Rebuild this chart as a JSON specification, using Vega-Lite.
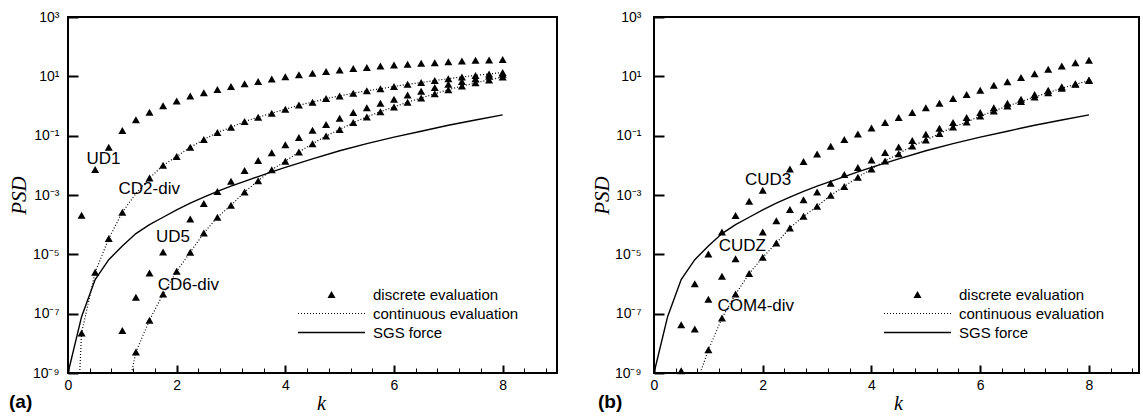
{
  "$schema": "https://vega.github.io/schema/vega-lite/v6.json",
  "background": "white",
  "padding": {"left": 7, "top": 9, "right": 0, "bottom": 0},
  "config": {
    "view": {"stroke": "black", "strokeWidth": 2},
    "axis": {"labelFont": "Liberation Sans", "labelFontSize": 14, "labelColor": "black", "domain": false, "ticks": false, "titleColor": "black", "gridColor": "black", "gridOpacity": 1}
  },
  "datasets": {
    "pts": [
      {"p":"a","s":"UD1","t":"discrete evaluation","k":0.25,"psd":2.09e-4},{"p":"a","s":"UD1","t":"discrete evaluation","k":0.5,"psd":7.24e-3},{"p":"a","s":"UD1","t":"discrete evaluation","k":0.75,"psd":4.07e-2},{"p":"a","s":"UD1","t":"discrete evaluation","k":1,"psd":0.148},{"p":"a","s":"UD1","t":"discrete evaluation","k":1.25,"psd":0.347},{"p":"a","s":"UD1","t":"discrete evaluation","k":1.5,"psd":0.617},{"p":"a","s":"UD1","t":"discrete evaluation","k":1.75,"psd":1.023},{"p":"a","s":"UD1","t":"discrete evaluation","k":2,"psd":1.479},{"p":"a","s":"UD1","t":"discrete evaluation","k":2.25,"psd":2.188},{"p":"a","s":"UD1","t":"discrete evaluation","k":2.5,"psd":2.818},{"p":"a","s":"UD1","t":"discrete evaluation","k":2.75,"psd":3.631},{"p":"a","s":"UD1","t":"discrete evaluation","k":3,"psd":4.571},{"p":"a","s":"UD1","t":"discrete evaluation","k":3.25,"psd":5.623},{"p":"a","s":"UD1","t":"discrete evaluation","k":3.5,"psd":6.761},{"p":"a","s":"UD1","t":"discrete evaluation","k":3.75,"psd":8.128},{"p":"a","s":"UD1","t":"discrete evaluation","k":4,"psd":9.772},{"p":"a","s":"UD1","t":"discrete evaluation","k":4.25,"psd":11.22},{"p":"a","s":"UD1","t":"discrete evaluation","k":4.5,"psd":12.59},{"p":"a","s":"UD1","t":"discrete evaluation","k":4.75,"psd":14.45},{"p":"a","s":"UD1","t":"discrete evaluation","k":5,"psd":16.22},{"p":"a","s":"UD1","t":"discrete evaluation","k":5.25,"psd":18.2},{"p":"a","s":"UD1","t":"discrete evaluation","k":5.5,"psd":19.95},{"p":"a","s":"UD1","t":"discrete evaluation","k":5.75,"psd":22.39},{"p":"a","s":"UD1","t":"discrete evaluation","k":6,"psd":23.99},{"p":"a","s":"UD1","t":"discrete evaluation","k":6.25,"psd":25.7},{"p":"a","s":"UD1","t":"discrete evaluation","k":6.5,"psd":27.54},{"p":"a","s":"UD1","t":"discrete evaluation","k":6.75,"psd":28.84},{"p":"a","s":"UD1","t":"discrete evaluation","k":7,"psd":30.9},{"p":"a","s":"UD1","t":"discrete evaluation","k":7.25,"psd":33.11},{"p":"a","s":"UD1","t":"discrete evaluation","k":7.5,"psd":34.67},{"p":"a","s":"UD1","t":"discrete evaluation","k":7.75,"psd":35.48},{"p":"a","s":"UD1","t":"discrete evaluation","k":8,"psd":37.15},
      {"p":"a","s":"CD2-div","t":"discrete evaluation","k":0.25,"psd":2.24e-8},{"p":"a","s":"CD2-div","t":"discrete evaluation","k":0.5,"psd":2.51e-6},{"p":"a","s":"CD2-div","t":"discrete evaluation","k":0.75,"psd":3.39e-5},{"p":"a","s":"CD2-div","t":"discrete evaluation","k":1,"psd":2.63e-4},{"p":"a","s":"CD2-div","t":"discrete evaluation","k":1.5,"psd":3.72e-3},{"p":"a","s":"CD2-div","t":"discrete evaluation","k":1.75,"psd":1.0e-2},{"p":"a","s":"CD2-div","t":"discrete evaluation","k":2,"psd":1.995e-2},{"p":"a","s":"CD2-div","t":"discrete evaluation","k":2.25,"psd":4.07e-2},{"p":"a","s":"CD2-div","t":"discrete evaluation","k":2.5,"psd":7.41e-2},{"p":"a","s":"CD2-div","t":"discrete evaluation","k":2.75,"psd":0.1288},{"p":"a","s":"CD2-div","t":"discrete evaluation","k":3,"psd":0.1905},{"p":"a","s":"CD2-div","t":"discrete evaluation","k":3.25,"psd":0.302},{"p":"a","s":"CD2-div","t":"discrete evaluation","k":3.5,"psd":0.417},{"p":"a","s":"CD2-div","t":"discrete evaluation","k":3.75,"psd":0.575},{"p":"a","s":"CD2-div","t":"discrete evaluation","k":4,"psd":0.776},{"p":"a","s":"CD2-div","t":"discrete evaluation","k":4.25,"psd":1.072},{"p":"a","s":"CD2-div","t":"discrete evaluation","k":4.5,"psd":1.349},{"p":"a","s":"CD2-div","t":"discrete evaluation","k":4.75,"psd":1.778},{"p":"a","s":"CD2-div","t":"discrete evaluation","k":5,"psd":2.188},{"p":"a","s":"CD2-div","t":"discrete evaluation","k":5.25,"psd":2.692},{"p":"a","s":"CD2-div","t":"discrete evaluation","k":5.5,"psd":3.236},{"p":"a","s":"CD2-div","t":"discrete evaluation","k":5.75,"psd":3.802},{"p":"a","s":"CD2-div","t":"discrete evaluation","k":6,"psd":4.571},{"p":"a","s":"CD2-div","t":"discrete evaluation","k":6.25,"psd":5.37},{"p":"a","s":"CD2-div","t":"discrete evaluation","k":6.5,"psd":6.166},{"p":"a","s":"CD2-div","t":"discrete evaluation","k":6.75,"psd":7.244},{"p":"a","s":"CD2-div","t":"discrete evaluation","k":7,"psd":8.318},{"p":"a","s":"CD2-div","t":"discrete evaluation","k":7.25,"psd":9.55},{"p":"a","s":"CD2-div","t":"discrete evaluation","k":7.5,"psd":10.72},{"p":"a","s":"CD2-div","t":"discrete evaluation","k":7.75,"psd":12.02},{"p":"a","s":"CD2-div","t":"discrete evaluation","k":8,"psd":13.49},
      {"p":"a","s":"UD5","t":"discrete evaluation","k":1,"psd":2.69e-8},{"p":"a","s":"UD5","t":"discrete evaluation","k":1.25,"psd":3.55e-7},{"p":"a","s":"UD5","t":"discrete evaluation","k":1.5,"psd":2.34e-6},{"p":"a","s":"UD5","t":"discrete evaluation","k":1.75,"psd":1.2e-5},{"p":"a","s":"UD5","t":"discrete evaluation","k":2.25,"psd":1.549e-4},{"p":"a","s":"UD5","t":"discrete evaluation","k":2.5,"psd":5.13e-4},{"p":"a","s":"UD5","t":"discrete evaluation","k":2.75,"psd":1.318e-3},{"p":"a","s":"UD5","t":"discrete evaluation","k":3,"psd":2.884e-3},{"p":"a","s":"UD5","t":"discrete evaluation","k":3.25,"psd":6.76e-3},{"p":"a","s":"UD5","t":"discrete evaluation","k":3.5,"psd":1.445e-2},{"p":"a","s":"UD5","t":"discrete evaluation","k":3.75,"psd":2.63e-2},{"p":"a","s":"UD5","t":"discrete evaluation","k":4,"psd":4.9e-2},{"p":"a","s":"UD5","t":"discrete evaluation","k":4.25,"psd":8.71e-2},{"p":"a","s":"UD5","t":"discrete evaluation","k":4.5,"psd":0.1514},{"p":"a","s":"UD5","t":"discrete evaluation","k":4.75,"psd":0.2399},{"p":"a","s":"UD5","t":"discrete evaluation","k":5,"psd":0.389},{"p":"a","s":"UD5","t":"discrete evaluation","k":5.25,"psd":0.6026},{"p":"a","s":"UD5","t":"discrete evaluation","k":5.5,"psd":0.871},{"p":"a","s":"UD5","t":"discrete evaluation","k":5.75,"psd":1.23},{"p":"a","s":"UD5","t":"discrete evaluation","k":6,"psd":1.698},{"p":"a","s":"UD5","t":"discrete evaluation","k":6.25,"psd":2.344},{"p":"a","s":"UD5","t":"discrete evaluation","k":6.5,"psd":3.162},{"p":"a","s":"UD5","t":"discrete evaluation","k":6.75,"psd":4.169},{"p":"a","s":"UD5","t":"discrete evaluation","k":7,"psd":5.37},{"p":"a","s":"UD5","t":"discrete evaluation","k":7.25,"psd":6.761},{"p":"a","s":"UD5","t":"discrete evaluation","k":7.5,"psd":8.318},{"p":"a","s":"UD5","t":"discrete evaluation","k":7.75,"psd":10},{"p":"a","s":"UD5","t":"discrete evaluation","k":8,"psd":11.75},
      {"p":"a","s":"CD6-div","t":"discrete evaluation","k":1.25,"psd":5.13e-9},{"p":"a","s":"CD6-div","t":"discrete evaluation","k":1.5,"psd":6.03e-8},{"p":"a","s":"CD6-div","t":"discrete evaluation","k":1.75,"psd":4.57e-7},{"p":"a","s":"CD6-div","t":"discrete evaluation","k":2,"psd":2.69e-6},{"p":"a","s":"CD6-div","t":"discrete evaluation","k":2.25,"psd":1.175e-5},{"p":"a","s":"CD6-div","t":"discrete evaluation","k":2.5,"psd":5.25e-5},{"p":"a","s":"CD6-div","t":"discrete evaluation","k":2.75,"psd":1.778e-4},{"p":"a","s":"CD6-div","t":"discrete evaluation","k":3,"psd":4.47e-4},{"p":"a","s":"CD6-div","t":"discrete evaluation","k":3.25,"psd":1.259e-3},{"p":"a","s":"CD6-div","t":"discrete evaluation","k":3.5,"psd":3.02e-3},{"p":"a","s":"CD6-div","t":"discrete evaluation","k":3.75,"psd":7.08e-3},{"p":"a","s":"CD6-div","t":"discrete evaluation","k":4,"psd":1.38e-2},{"p":"a","s":"CD6-div","t":"discrete evaluation","k":4.25,"psd":2.818e-2},{"p":"a","s":"CD6-div","t":"discrete evaluation","k":4.5,"psd":5.37e-2},{"p":"a","s":"CD6-div","t":"discrete evaluation","k":4.75,"psd":9.77e-2},{"p":"a","s":"CD6-div","t":"discrete evaluation","k":5,"psd":0.1622},{"p":"a","s":"CD6-div","t":"discrete evaluation","k":5.25,"psd":0.2754},{"p":"a","s":"CD6-div","t":"discrete evaluation","k":5.5,"psd":0.4266},{"p":"a","s":"CD6-div","t":"discrete evaluation","k":5.75,"psd":0.6457},{"p":"a","s":"CD6-div","t":"discrete evaluation","k":6,"psd":0.9333},{"p":"a","s":"CD6-div","t":"discrete evaluation","k":6.25,"psd":1.349},{"p":"a","s":"CD6-div","t":"discrete evaluation","k":6.5,"psd":1.862},{"p":"a","s":"CD6-div","t":"discrete evaluation","k":6.75,"psd":2.57},{"p":"a","s":"CD6-div","t":"discrete evaluation","k":7,"psd":3.548},{"p":"a","s":"CD6-div","t":"discrete evaluation","k":7.25,"psd":4.677},{"p":"a","s":"CD6-div","t":"discrete evaluation","k":7.5,"psd":6.026},{"p":"a","s":"CD6-div","t":"discrete evaluation","k":7.75,"psd":7.586},{"p":"a","s":"CD6-div","t":"discrete evaluation","k":8,"psd":9.55},
      {"p":"b","s":"CUD3","t":"discrete evaluation","k":0.5,"psd":4.27e-8},{"p":"b","s":"CUD3","t":"discrete evaluation","k":0.75,"psd":1.023e-6},{"p":"b","s":"CUD3","t":"discrete evaluation","k":1,"psd":1.023e-5},{"p":"b","s":"CUD3","t":"discrete evaluation","k":1.25,"psd":5.62e-5},{"p":"b","s":"CUD3","t":"discrete evaluation","k":1.5,"psd":2.04e-4},{"p":"b","s":"CUD3","t":"discrete evaluation","k":1.75,"psd":6.17e-4},{"p":"b","s":"CUD3","t":"discrete evaluation","k":2,"psd":1.445e-3},{"p":"b","s":"CUD3","t":"discrete evaluation","k":2.5,"psd":7.59e-3},{"p":"b","s":"CUD3","t":"discrete evaluation","k":2.75,"psd":1.349e-2},{"p":"b","s":"CUD3","t":"discrete evaluation","k":3,"psd":2.399e-2},{"p":"b","s":"CUD3","t":"discrete evaluation","k":3.25,"psd":4.37e-2},{"p":"b","s":"CUD3","t":"discrete evaluation","k":3.5,"psd":7.41e-2},{"p":"b","s":"CUD3","t":"discrete evaluation","k":3.75,"psd":0.1148},{"p":"b","s":"CUD3","t":"discrete evaluation","k":4,"psd":0.182},{"p":"b","s":"CUD3","t":"discrete evaluation","k":4.25,"psd":0.2754},{"p":"b","s":"CUD3","t":"discrete evaluation","k":4.5,"psd":0.4074},{"p":"b","s":"CUD3","t":"discrete evaluation","k":4.75,"psd":0.6026},{"p":"b","s":"CUD3","t":"discrete evaluation","k":5,"psd":0.871},{"p":"b","s":"CUD3","t":"discrete evaluation","k":5.25,"psd":1.23},{"p":"b","s":"CUD3","t":"discrete evaluation","k":5.5,"psd":1.778},{"p":"b","s":"CUD3","t":"discrete evaluation","k":5.75,"psd":2.455},{"p":"b","s":"CUD3","t":"discrete evaluation","k":6,"psd":3.388},{"p":"b","s":"CUD3","t":"discrete evaluation","k":6.25,"psd":5.012},{"p":"b","s":"CUD3","t":"discrete evaluation","k":6.5,"psd":6.607},{"p":"b","s":"CUD3","t":"discrete evaluation","k":6.75,"psd":9.12},{"p":"b","s":"CUD3","t":"discrete evaluation","k":7,"psd":12.3},{"p":"b","s":"CUD3","t":"discrete evaluation","k":7.25,"psd":17.38},{"p":"b","s":"CUD3","t":"discrete evaluation","k":7.5,"psd":22.39},{"p":"b","s":"CUD3","t":"discrete evaluation","k":7.75,"psd":28.84},{"p":"b","s":"CUD3","t":"discrete evaluation","k":8,"psd":34.67},
      {"p":"b","s":"CUDZ","t":"discrete evaluation","k":0.5,"psd":1.2e-9},{"p":"b","s":"CUDZ","t":"discrete evaluation","k":0.75,"psd":3.02e-8},{"p":"b","s":"CUDZ","t":"discrete evaluation","k":1,"psd":3.09e-7},{"p":"b","s":"CUDZ","t":"discrete evaluation","k":1.25,"psd":1.82e-6},{"p":"b","s":"CUDZ","t":"discrete evaluation","k":1.5,"psd":7.08e-6},{"p":"b","s":"CUDZ","t":"discrete evaluation","k":2,"psd":5.62e-5},{"p":"b","s":"CUDZ","t":"discrete evaluation","k":2.25,"psd":1.349e-4},{"p":"b","s":"CUDZ","t":"discrete evaluation","k":2.5,"psd":3.24e-4},{"p":"b","s":"CUDZ","t":"discrete evaluation","k":2.75,"psd":6.92e-4},{"p":"b","s":"CUDZ","t":"discrete evaluation","k":3,"psd":1.259e-3},{"p":"b","s":"CUDZ","t":"discrete evaluation","k":3.25,"psd":2.512e-3},{"p":"b","s":"CUDZ","t":"discrete evaluation","k":3.5,"psd":4.9e-3},{"p":"b","s":"CUDZ","t":"discrete evaluation","k":3.75,"psd":8.51e-3},{"p":"b","s":"CUDZ","t":"discrete evaluation","k":4,"psd":1.514e-2},{"p":"b","s":"CUDZ","t":"discrete evaluation","k":4.25,"psd":2.692e-2},{"p":"b","s":"CUDZ","t":"discrete evaluation","k":4.5,"psd":4.17e-2},{"p":"b","s":"CUDZ","t":"discrete evaluation","k":4.75,"psd":6.92e-2},{"p":"b","s":"CUDZ","t":"discrete evaluation","k":5,"psd":0.1122},{"p":"b","s":"CUDZ","t":"discrete evaluation","k":5.25,"psd":0.1778},{"p":"b","s":"CUDZ","t":"discrete evaluation","k":5.5,"psd":0.2754},{"p":"b","s":"CUDZ","t":"discrete evaluation","k":5.75,"psd":0.4074},{"p":"b","s":"CUDZ","t":"discrete evaluation","k":6,"psd":0.6026},{"p":"b","s":"CUDZ","t":"discrete evaluation","k":6.25,"psd":0.871},{"p":"b","s":"CUDZ","t":"discrete evaluation","k":6.5,"psd":1.23},{"p":"b","s":"CUDZ","t":"discrete evaluation","k":6.75,"psd":1.698},{"p":"b","s":"CUDZ","t":"discrete evaluation","k":7,"psd":2.455},{"p":"b","s":"CUDZ","t":"discrete evaluation","k":7.25,"psd":3.388},{"p":"b","s":"CUDZ","t":"discrete evaluation","k":7.5,"psd":4.467},{"p":"b","s":"CUDZ","t":"discrete evaluation","k":7.75,"psd":5.623},{"p":"b","s":"CUDZ","t":"discrete evaluation","k":8,"psd":7.586},
      {"p":"b","s":"COM4-div","t":"discrete evaluation","k":1,"psd":6.03e-9},{"p":"b","s":"COM4-div","t":"discrete evaluation","k":1.25,"psd":7.08e-8},{"p":"b","s":"COM4-div","t":"discrete evaluation","k":1.5,"psd":4.57e-7},{"p":"b","s":"COM4-div","t":"discrete evaluation","k":1.75,"psd":2.24e-6},{"p":"b","s":"COM4-div","t":"discrete evaluation","k":2,"psd":7.94e-6},{"p":"b","s":"COM4-div","t":"discrete evaluation","k":2.25,"psd":2.4e-5},{"p":"b","s":"COM4-div","t":"discrete evaluation","k":2.5,"psd":7.76e-5},{"p":"b","s":"COM4-div","t":"discrete evaluation","k":2.75,"psd":1.905e-4},{"p":"b","s":"COM4-div","t":"discrete evaluation","k":3,"psd":4.17e-4},{"p":"b","s":"COM4-div","t":"discrete evaluation","k":3.25,"psd":9.77e-4},{"p":"b","s":"COM4-div","t":"discrete evaluation","k":3.5,"psd":1.95e-3},{"p":"b","s":"COM4-div","t":"discrete evaluation","k":3.75,"psd":3.98e-3},{"p":"b","s":"COM4-div","t":"discrete evaluation","k":4,"psd":7.59e-3},{"p":"b","s":"COM4-div","t":"discrete evaluation","k":4.25,"psd":1.413e-2},{"p":"b","s":"COM4-div","t":"discrete evaluation","k":4.5,"psd":2.455e-2},{"p":"b","s":"COM4-div","t":"discrete evaluation","k":4.75,"psd":4.47e-2},{"p":"b","s":"COM4-div","t":"discrete evaluation","k":5,"psd":7.08e-2},{"p":"b","s":"COM4-div","t":"discrete evaluation","k":5.25,"psd":0.1175},{"p":"b","s":"COM4-div","t":"discrete evaluation","k":5.5,"psd":0.195},{"p":"b","s":"COM4-div","t":"discrete evaluation","k":5.75,"psd":0.2884},{"p":"b","s":"COM4-div","t":"discrete evaluation","k":6,"psd":0.4571},{"p":"b","s":"COM4-div","t":"discrete evaluation","k":6.25,"psd":0.6761},{"p":"b","s":"COM4-div","t":"discrete evaluation","k":6.5,"psd":1},{"p":"b","s":"COM4-div","t":"discrete evaluation","k":6.75,"psd":1.413},{"p":"b","s":"COM4-div","t":"discrete evaluation","k":7,"psd":1.995},{"p":"b","s":"COM4-div","t":"discrete evaluation","k":7.25,"psd":2.818},{"p":"b","s":"COM4-div","t":"discrete evaluation","k":7.5,"psd":3.981},{"p":"b","s":"COM4-div","t":"discrete evaluation","k":7.75,"psd":5.37},{"p":"b","s":"COM4-div","t":"discrete evaluation","k":8,"psd":7.244}
    ],
    "lines": [
      {"p":"a","s":"CD2-div","k":0.215,"psd":1e-9},{"p":"a","s":"CD2-div","k":0.25,"psd":2.24e-8},{"p":"a","s":"CD2-div","k":0.5,"psd":2.51e-6},{"p":"a","s":"CD2-div","k":0.75,"psd":3.39e-5},{"p":"a","s":"CD2-div","k":1,"psd":2.63e-4},{"p":"a","s":"CD2-div","k":1.25,"psd":1.122e-3},{"p":"a","s":"CD2-div","k":1.5,"psd":3.72e-3},{"p":"a","s":"CD2-div","k":1.75,"psd":1.0e-2},{"p":"a","s":"CD2-div","k":2,"psd":1.995e-2},{"p":"a","s":"CD2-div","k":2.25,"psd":4.07e-2},{"p":"a","s":"CD2-div","k":2.5,"psd":7.41e-2},{"p":"a","s":"CD2-div","k":2.75,"psd":0.1288},{"p":"a","s":"CD2-div","k":3,"psd":0.1905},{"p":"a","s":"CD2-div","k":3.25,"psd":0.302},{"p":"a","s":"CD2-div","k":3.5,"psd":0.417},{"p":"a","s":"CD2-div","k":3.75,"psd":0.575},{"p":"a","s":"CD2-div","k":4,"psd":0.776},{"p":"a","s":"CD2-div","k":4.25,"psd":1.072},{"p":"a","s":"CD2-div","k":4.5,"psd":1.349},{"p":"a","s":"CD2-div","k":4.75,"psd":1.778},{"p":"a","s":"CD2-div","k":5,"psd":2.188},{"p":"a","s":"CD2-div","k":5.25,"psd":2.692},{"p":"a","s":"CD2-div","k":5.5,"psd":3.236},{"p":"a","s":"CD2-div","k":5.75,"psd":3.802},{"p":"a","s":"CD2-div","k":6,"psd":4.571},{"p":"a","s":"CD2-div","k":6.25,"psd":5.37},{"p":"a","s":"CD2-div","k":6.5,"psd":6.166},{"p":"a","s":"CD2-div","k":6.75,"psd":7.244},{"p":"a","s":"CD2-div","k":7,"psd":8.318},{"p":"a","s":"CD2-div","k":7.25,"psd":9.55},{"p":"a","s":"CD2-div","k":7.5,"psd":10.72},{"p":"a","s":"CD2-div","k":7.75,"psd":12.02},{"p":"a","s":"CD2-div","k":8,"psd":13.49},
      {"p":"a","s":"CD6-div","k":1.17,"psd":1e-9},{"p":"a","s":"CD6-div","k":1.25,"psd":5.13e-9},{"p":"a","s":"CD6-div","k":1.5,"psd":6.03e-8},{"p":"a","s":"CD6-div","k":1.75,"psd":4.57e-7},{"p":"a","s":"CD6-div","k":2,"psd":2.69e-6},{"p":"a","s":"CD6-div","k":2.25,"psd":1.175e-5},{"p":"a","s":"CD6-div","k":2.5,"psd":5.25e-5},{"p":"a","s":"CD6-div","k":2.75,"psd":1.778e-4},{"p":"a","s":"CD6-div","k":3,"psd":4.47e-4},{"p":"a","s":"CD6-div","k":3.25,"psd":1.259e-3},{"p":"a","s":"CD6-div","k":3.5,"psd":3.02e-3},{"p":"a","s":"CD6-div","k":3.75,"psd":7.08e-3},{"p":"a","s":"CD6-div","k":4,"psd":1.38e-2},{"p":"a","s":"CD6-div","k":4.25,"psd":2.818e-2},{"p":"a","s":"CD6-div","k":4.5,"psd":5.37e-2},{"p":"a","s":"CD6-div","k":4.75,"psd":9.77e-2},{"p":"a","s":"CD6-div","k":5,"psd":0.1622},{"p":"a","s":"CD6-div","k":5.25,"psd":0.2754},{"p":"a","s":"CD6-div","k":5.5,"psd":0.4266},{"p":"a","s":"CD6-div","k":5.75,"psd":0.6457},{"p":"a","s":"CD6-div","k":6,"psd":0.9333},{"p":"a","s":"CD6-div","k":6.25,"psd":1.349},{"p":"a","s":"CD6-div","k":6.5,"psd":1.862},{"p":"a","s":"CD6-div","k":6.75,"psd":2.57},{"p":"a","s":"CD6-div","k":7,"psd":3.548},{"p":"a","s":"CD6-div","k":7.25,"psd":4.677},{"p":"a","s":"CD6-div","k":7.5,"psd":6.026},{"p":"a","s":"CD6-div","k":7.75,"psd":7.586},{"p":"a","s":"CD6-div","k":8,"psd":9.55},
      {"p":"b","s":"COM4-div","k":0.85,"psd":1e-9},{"p":"b","s":"COM4-div","k":1,"psd":6.03e-9},{"p":"b","s":"COM4-div","k":1.25,"psd":7.08e-8},{"p":"b","s":"COM4-div","k":1.5,"psd":4.57e-7},{"p":"b","s":"COM4-div","k":1.75,"psd":2.24e-6},{"p":"b","s":"COM4-div","k":2,"psd":7.94e-6},{"p":"b","s":"COM4-div","k":2.25,"psd":2.4e-5},{"p":"b","s":"COM4-div","k":2.5,"psd":7.76e-5},{"p":"b","s":"COM4-div","k":2.75,"psd":1.905e-4},{"p":"b","s":"COM4-div","k":3,"psd":4.17e-4},{"p":"b","s":"COM4-div","k":3.25,"psd":9.77e-4},{"p":"b","s":"COM4-div","k":3.5,"psd":1.95e-3},{"p":"b","s":"COM4-div","k":3.75,"psd":3.98e-3},{"p":"b","s":"COM4-div","k":4,"psd":7.59e-3},{"p":"b","s":"COM4-div","k":4.25,"psd":1.413e-2},{"p":"b","s":"COM4-div","k":4.5,"psd":2.455e-2},{"p":"b","s":"COM4-div","k":4.75,"psd":4.47e-2},{"p":"b","s":"COM4-div","k":5,"psd":7.08e-2},{"p":"b","s":"COM4-div","k":5.25,"psd":0.1175},{"p":"b","s":"COM4-div","k":5.5,"psd":0.195},{"p":"b","s":"COM4-div","k":5.75,"psd":0.2884},{"p":"b","s":"COM4-div","k":6,"psd":0.4571},{"p":"b","s":"COM4-div","k":6.25,"psd":0.6761},{"p":"b","s":"COM4-div","k":6.5,"psd":1},{"p":"b","s":"COM4-div","k":6.75,"psd":1.413},{"p":"b","s":"COM4-div","k":7,"psd":1.995},{"p":"b","s":"COM4-div","k":7.25,"psd":2.818},{"p":"b","s":"COM4-div","k":7.5,"psd":3.981},{"p":"b","s":"COM4-div","k":7.75,"psd":5.37},{"p":"b","s":"COM4-div","k":8,"psd":7.244},
      {"p":"a","s":"SGS","k":0,"psd":1e-9},{"p":"a","s":"SGS","k":0.25,"psd":7.94e-8},{"p":"a","s":"SGS","k":0.5,"psd":1.413e-6},{"p":"a","s":"SGS","k":0.75,"psd":6.61e-6},{"p":"a","s":"SGS","k":1,"psd":1.905e-5},{"p":"a","s":"SGS","k":1.25,"psd":5.01e-5},{"p":"a","s":"SGS","k":1.5,"psd":1e-4},{"p":"a","s":"SGS","k":1.75,"psd":1.778e-4},{"p":"a","s":"SGS","k":2,"psd":3.162e-4},{"p":"a","s":"SGS","k":2.25,"psd":5.37e-4},{"p":"a","s":"SGS","k":2.5,"psd":8.51e-4},{"p":"a","s":"SGS","k":2.75,"psd":1.318e-3},{"p":"a","s":"SGS","k":3,"psd":1.995e-3},{"p":"a","s":"SGS","k":3.25,"psd":2.884e-3},{"p":"a","s":"SGS","k":3.5,"psd":4.17e-3},{"p":"a","s":"SGS","k":3.75,"psd":6.03e-3},{"p":"a","s":"SGS","k":4,"psd":8.51e-3},{"p":"a","s":"SGS","k":4.5,"psd":1.66e-2},{"p":"a","s":"SGS","k":5,"psd":3.09e-2},{"p":"a","s":"SGS","k":5.5,"psd":5.37e-2},{"p":"a","s":"SGS","k":6,"psd":8.91e-2},{"p":"a","s":"SGS","k":6.5,"psd":0.1413},{"p":"a","s":"SGS","k":7,"psd":0.2239},{"p":"a","s":"SGS","k":7.5,"psd":0.3388},{"p":"a","s":"SGS","k":8,"psd":0.5012},
      {"p":"b","s":"SGS","k":0,"psd":1e-9},{"p":"b","s":"SGS","k":0.25,"psd":7.94e-8},{"p":"b","s":"SGS","k":0.5,"psd":1.413e-6},{"p":"b","s":"SGS","k":0.75,"psd":6.61e-6},{"p":"b","s":"SGS","k":1,"psd":1.905e-5},{"p":"b","s":"SGS","k":1.25,"psd":5.01e-5},{"p":"b","s":"SGS","k":1.5,"psd":1e-4},{"p":"b","s":"SGS","k":1.75,"psd":1.778e-4},{"p":"b","s":"SGS","k":2,"psd":3.162e-4},{"p":"b","s":"SGS","k":2.25,"psd":5.37e-4},{"p":"b","s":"SGS","k":2.5,"psd":8.51e-4},{"p":"b","s":"SGS","k":2.75,"psd":1.318e-3},{"p":"b","s":"SGS","k":3,"psd":1.995e-3},{"p":"b","s":"SGS","k":3.25,"psd":2.884e-3},{"p":"b","s":"SGS","k":3.5,"psd":4.17e-3},{"p":"b","s":"SGS","k":3.75,"psd":6.03e-3},{"p":"b","s":"SGS","k":4,"psd":8.51e-3},{"p":"b","s":"SGS","k":4.5,"psd":1.66e-2},{"p":"b","s":"SGS","k":5,"psd":3.09e-2},{"p":"b","s":"SGS","k":5.5,"psd":5.37e-2},{"p":"b","s":"SGS","k":6,"psd":8.91e-2},{"p":"b","s":"SGS","k":6.5,"psd":0.1413},{"p":"b","s":"SGS","k":7,"psd":0.2239},{"p":"b","s":"SGS","k":7.5,"psd":0.3388},{"p":"b","s":"SGS","k":8,"psd":0.5012}
    ],
    "notes": [
      {"p":"a","label":"UD1","k":0.653,"psd":1.585e-2},
      {"p":"a","label":"CD2-div","k":1.495,"psd":1.622e-3},
      {"p":"a","label":"UD5","k":1.933,"psd":3.98e-5},
      {"p":"a","label":"CD6-div","k":2.215,"psd":9.55e-7},
      {"p":"b","label":"CUD3","k":2.1,"psd":3.236e-3},
      {"p":"b","label":"CUDZ","k":1.625,"psd":1.841e-5},
      {"p":"b","label":"COM4-div","k":1.872,"psd":1.82e-7}
    ]
  },
  "spacing": 97,
  "bounds": "flush",
  "resolve": {"scale": {"x": "independent", "y": "independent", "shape": "independent"}, "legend": {"shape": "independent"}},
  "hconcat": [
    {
      "width": 489, "height": 356,
      "title": {"text": "(a)", "orient": "bottom", "anchor": "start", "frame": "group", "dx": -59, "offset": -20, "font": "Liberation Sans", "fontSize": 19, "fontWeight": "bold", "color": "black"},
      "encoding": {
        "x": {"field": "k", "type": "quantitative", "scale": {"domain": [0, 9], "nice": false, "zero": false},
          "axis": {"values": [0,0.4,0.8,1.2,1.6,2,2.4,2.8,3.2,3.6,4,4.4,4.8,5.2,5.6,6,6.4,6.8,7.2,7.6,8,8.4,8.8],
            "labelExpr": "abs(datum.value - round(datum.value / 2) * 2) < 0.01 ? format(datum.value, 'd') : ''",
            "labelFlush": false, "labelOverlap": false, "ticks": false, "labelPadding": 5,
            "grid": true,
            "gridDash": {"condition": {"test": "abs(datum.value - round(datum.value / 2) * 2) < 0.01", "value": [0, 348, 8, 2000]}, "value": [0, 351, 5, 2000]},
            "gridWidth": {"condition": {"test": "abs(datum.value - round(datum.value / 2) * 2) < 0.01", "value": 2}, "value": 1},
            "title": "k", "titleFont": "Liberation Serif", "titleFontStyle": "italic", "titleFontWeight": "normal", "titleFontSize": 20,
            "titleX": 253, "titleY": 36, "titleBaseline": "alphabetic", "titleAlign": "center"}},
        "y": {"field": "psd", "type": "quantitative", "scale": {"type": "log", "domain": [1e-9, 1000], "nice": false},
          "axis": {"values": [1000, 10, 0.1, 0.001, 0.00001, 1e-7, 1e-9],
            "labelExpr": "datum.value > 100 ? '10³' : datum.value > 1 ? '10¹' : datum.value > 0.01 ? '10⁻¹' : datum.value > 0.0001 ? '10⁻³' : datum.value > 0.000001 ? '10⁻⁵' : datum.value > 0.00000001 ? '10⁻⁷' : '10⁻⁹'",
            "ticks": false, "labelPadding": 9, "labelBaseline": "middle",
            "grid": true, "gridDash": [10, 2000], "gridWidth": 2,
            "title": "PSD", "titleFont": "Liberation Serif", "titleFontStyle": "italic", "titleFontWeight": "normal", "titleFontSize": 21,
            "titleAngle": -90, "titleX": -49, "titleY": 178, "titleAlign": "center", "titleBaseline": "middle"}}
      },
      "layer": [
        {"data": {"name": "lines"}, "transform": [{"filter": "datum.p === 'a' && datum.s !== 'SGS'"}],
          "mark": {"type": "line", "color": "black", "strokeWidth": 1.2, "strokeDash": [1, 2]},
          "encoding": {"detail": {"field": "s"}}},
        {"data": {"name": "lines"}, "transform": [{"filter": "datum.p === 'a' && datum.s === 'SGS'"}],
          "mark": {"type": "line", "color": "black", "strokeWidth": 1.4},
          "encoding": {"detail": {"field": "s"}}},
        {"data": {"name": "pts"}, "transform": [{"filter": "datum.p === 'a'"}],
          "mark": {"type": "point", "filled": true, "color": "black", "opacity": 1, "size": 100},
          "encoding": {"shape": {"field": "t", "type": "nominal",
            "scale": {"domain": ["discrete evaluation", "continuous evaluation", "SGS force"], "range": ["M0,-0.7L0.8,0.7L-0.8,0.7Z", "M-6.7,-0.12h0.2v0.24h-0.2zm0.6,0h0.2v0.24h-0.2zm0.6,0h0.2v0.24h-0.2zm0.6,0h0.2v0.24h-0.2zm0.6,0h0.2v0.24h-0.2zm0.6,0h0.2v0.24h-0.2zm0.6,0h0.2v0.24h-0.2zm0.6,0h0.2v0.24h-0.2zm0.6,0h0.2v0.24h-0.2zm0.6,0h0.2v0.24h-0.2zm0.6,0h0.2v0.24h-0.2zm0.6,0h0.2v0.24h-0.2zm0.6,0h0.2v0.24h-0.2zm0.6,0h0.2v0.24h-0.2zm0.6,0h0.2v0.24h-0.2zm0.6,0h0.2v0.24h-0.2zm0.6,0h0.2v0.24h-0.2zm0.6,0h0.2v0.24h-0.2zm0.6,0h0.2v0.24h-0.2zm0.6,0h0.2v0.24h-0.2zm0.6,0h0.2v0.24h-0.2zm0.6,0h0.2v0.24h-0.2zm0.6,0h0.2v0.24h-0.2z", "M-6.7,-0.13h13.4v0.26h-13.4z"]},
            "legend": {"title": null, "orient": "none", "legendX": 256, "legendY": 270, "labelFont": "Liberation Sans", "labelFontSize": 15, "labelColor": "black", "labelLimit": 0, "labelOffset": 34, "rowPadding": 3, "symbolSize": 100,
              "symbolFillColor": "black", "symbolStrokeWidth": 0, "symbolOpacity": 1}}}},
        {"data": {"name": "notes"}, "transform": [{"filter": "datum.p === 'a'"}],
          "mark": {"type": "text", "font": "Liberation Sans", "fontSize": 17, "color": "black", "align": "center", "baseline": "middle"},
          "encoding": {"text": {"field": "label"}}}
      ]
    },
    {
      "width": 485, "height": 356,
      "title": {"text": "(b)", "orient": "bottom", "anchor": "start", "frame": "group", "dx": -56, "offset": -20, "font": "Liberation Sans", "fontSize": 19, "fontWeight": "bold", "color": "black"},
      "encoding": {
        "x": {"field": "k", "type": "quantitative", "scale": {"domain": [0, 8.92], "nice": false, "zero": false},
          "axis": {"values": [0,0.4,0.8,1.2,1.6,2,2.4,2.8,3.2,3.6,4,4.4,4.8,5.2,5.6,6,6.4,6.8,7.2,7.6,8,8.4,8.8],
            "labelExpr": "abs(datum.value - round(datum.value / 2) * 2) < 0.01 ? format(datum.value, 'd') : ''",
            "labelFlush": false, "labelOverlap": false, "ticks": false, "labelPadding": 5,
            "grid": true,
            "gridDash": {"condition": {"test": "abs(datum.value - round(datum.value / 2) * 2) < 0.01", "value": [0, 348, 8, 2000]}, "value": [0, 351, 5, 2000]},
            "gridWidth": {"condition": {"test": "abs(datum.value - round(datum.value / 2) * 2) < 0.01", "value": 2}, "value": 1},
            "title": "k", "titleFont": "Liberation Serif", "titleFontStyle": "italic", "titleFontWeight": "normal", "titleFontSize": 20,
            "titleX": 244, "titleY": 36, "titleBaseline": "alphabetic", "titleAlign": "center"}},
        "y": {"field": "psd", "type": "quantitative", "scale": {"type": "log", "domain": [1e-9, 1000], "nice": false},
          "axis": {"values": [1000, 10, 0.1, 0.001, 0.00001, 1e-7, 1e-9],
            "labelExpr": "datum.value > 100 ? '10³' : datum.value > 1 ? '10¹' : datum.value > 0.01 ? '10⁻¹' : datum.value > 0.0001 ? '10⁻³' : datum.value > 0.000001 ? '10⁻⁵' : datum.value > 0.00000001 ? '10⁻⁷' : '10⁻⁹'",
            "ticks": false, "labelPadding": 13, "labelBaseline": "middle",
            "grid": true, "gridDash": [10, 2000], "gridWidth": 2,
            "title": "PSD", "titleFont": "Liberation Serif", "titleFontStyle": "italic", "titleFontWeight": "normal", "titleFontSize": 21,
            "titleAngle": -90, "titleX": -52, "titleY": 178, "titleAlign": "center", "titleBaseline": "middle"}}
      },
      "layer": [
        {"data": {"name": "lines"}, "transform": [{"filter": "datum.p === 'b' && datum.s !== 'SGS'"}],
          "mark": {"type": "line", "color": "black", "strokeWidth": 1.2, "strokeDash": [1, 2]},
          "encoding": {"detail": {"field": "s"}}},
        {"data": {"name": "lines"}, "transform": [{"filter": "datum.p === 'b' && datum.s === 'SGS'"}],
          "mark": {"type": "line", "color": "black", "strokeWidth": 1.4},
          "encoding": {"detail": {"field": "s"}}},
        {"data": {"name": "pts"}, "transform": [{"filter": "datum.p === 'b'"}],
          "mark": {"type": "point", "filled": true, "color": "black", "opacity": 1, "size": 100},
          "encoding": {"shape": {"field": "t", "type": "nominal",
            "scale": {"domain": ["discrete evaluation", "continuous evaluation", "SGS force"], "range": ["M0,-0.7L0.8,0.7L-0.8,0.7Z", "M-6.7,-0.12h0.2v0.24h-0.2zm0.6,0h0.2v0.24h-0.2zm0.6,0h0.2v0.24h-0.2zm0.6,0h0.2v0.24h-0.2zm0.6,0h0.2v0.24h-0.2zm0.6,0h0.2v0.24h-0.2zm0.6,0h0.2v0.24h-0.2zm0.6,0h0.2v0.24h-0.2zm0.6,0h0.2v0.24h-0.2zm0.6,0h0.2v0.24h-0.2zm0.6,0h0.2v0.24h-0.2zm0.6,0h0.2v0.24h-0.2zm0.6,0h0.2v0.24h-0.2zm0.6,0h0.2v0.24h-0.2zm0.6,0h0.2v0.24h-0.2zm0.6,0h0.2v0.24h-0.2zm0.6,0h0.2v0.24h-0.2zm0.6,0h0.2v0.24h-0.2zm0.6,0h0.2v0.24h-0.2zm0.6,0h0.2v0.24h-0.2zm0.6,0h0.2v0.24h-0.2zm0.6,0h0.2v0.24h-0.2zm0.6,0h0.2v0.24h-0.2z", "M-6.7,-0.13h13.4v0.26h-13.4z"]},
            "legend": {"title": null, "orient": "none", "legendX": 256, "legendY": 270, "labelFont": "Liberation Sans", "labelFontSize": 15, "labelColor": "black", "labelLimit": 0, "labelOffset": 34, "rowPadding": 3, "symbolSize": 100,
              "symbolFillColor": "black", "symbolStrokeWidth": 0, "symbolOpacity": 1}}}},
        {"data": {"name": "notes"}, "transform": [{"filter": "datum.p === 'b'"}],
          "mark": {"type": "text", "font": "Liberation Sans", "fontSize": 17, "color": "black", "align": "center", "baseline": "middle"},
          "encoding": {"text": {"field": "label"}}}
      ]
    }
  ]
}
